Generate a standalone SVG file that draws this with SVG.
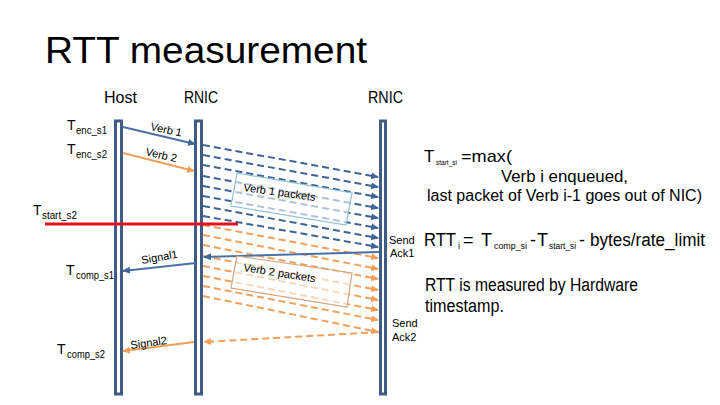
<svg xmlns="http://www.w3.org/2000/svg" width="720" height="405" viewBox="0 0 720 405">
<defs>
<style>
text{font-family:"Liberation Sans",Arial,sans-serif;fill:#000}
.bar{fill:#fff;stroke:#3E5C86;stroke-width:3}
.bs{stroke:#4A70A8;stroke-width:2;fill:none}
.bd{stroke:#3F6597;stroke-width:2;fill:none;stroke-dasharray:7 4}
.os{stroke:#F0A05A;stroke-width:2;fill:none}
.od{stroke:#F0A05A;stroke-width:2;fill:none;stroke-dasharray:7 4}
.lbl{font-size:11px}
.sub{font-size:10px}
.big{font-size:18px}
.mid{font-size:17px}
</style>
<marker id="ab" markerWidth="8" markerHeight="7" refX="7" refY="3.5" orient="auto" markerUnits="userSpaceOnUse"><path d="M0,0 L8,3.5 L0,7 z" fill="#3F6597"/></marker>
<marker id="ao" markerWidth="8" markerHeight="7" refX="7" refY="3.5" orient="auto" markerUnits="userSpaceOnUse"><path d="M0,0 L8,3.5 L0,7 z" fill="#F0A05A"/></marker>
</defs>
<rect width="720" height="405" fill="#fff"/>
<text x="45" y="63" font-size="37" textLength="322" lengthAdjust="spacingAndGlyphs">RTT measurement</text>

<g id="host">
<rect class="bar" x="115.5" y="121" width="6" height="273"/>
<text x="104" y="103" font-size="16" textLength="33" lengthAdjust="spacingAndGlyphs">Host</text>
</g>
<g id="rnic1">
<rect class="bar" x="195.5" y="121" width="6" height="273"/>
<text x="184" y="103" font-size="16" textLength="34" lengthAdjust="spacingAndGlyphs">RNIC</text>
</g>
<g id="rnic2">
<rect class="bar" x="380.5" y="121" width="5" height="273"/>
<text x="368" y="103" font-size="16" textLength="35" lengthAdjust="spacingAndGlyphs">RNIC</text>
</g>

<g id="connectors">
<line class="bs" x1="123" y1="127" x2="195" y2="144" marker-end="url(#ab)"/>
<line class="os" x1="123" y1="153" x2="194" y2="171" marker-end="url(#ao)"/>
<line class="bd" x1="203" y1="145" x2="378" y2="177" marker-end="url(#ab)"/>
<line class="bd" x1="203" y1="155" x2="378" y2="187" marker-end="url(#ab)"/>
<line class="bd" x1="203" y1="165" x2="378" y2="197" marker-end="url(#ab)"/>
<line class="bd" x1="203" y1="176" x2="378" y2="208" marker-end="url(#ab)"/>
<line class="bd" x1="203" y1="186" x2="378" y2="218" marker-end="url(#ab)"/>
<line class="bd" x1="203" y1="196" x2="378" y2="228" marker-end="url(#ab)"/>
<line class="bd" x1="203" y1="206" x2="378" y2="238" marker-end="url(#ab)"/>
<line class="bd" x1="203" y1="216" x2="378" y2="247" marker-end="url(#ab)"/>
<line class="od" x1="203" y1="225" x2="378" y2="258" marker-end="url(#ao)"/>
<line class="od" x1="203" y1="235" x2="378" y2="269" marker-end="url(#ao)"/>
<line class="od" x1="203" y1="245" x2="378" y2="279" marker-end="url(#ao)"/>
<line class="od" x1="203" y1="256" x2="378" y2="290" marker-end="url(#ao)"/>
<line class="od" x1="203" y1="266" x2="378" y2="300" marker-end="url(#ao)"/>
<line class="od" x1="203" y1="276" x2="378" y2="310" marker-end="url(#ao)"/>
<line class="od" x1="203" y1="286" x2="378" y2="320" marker-end="url(#ao)"/>
<line class="od" x1="203" y1="296" x2="378" y2="332" marker-end="url(#ao)"/>
<line class="bs" x1="379" y1="252" x2="204" y2="257" marker-end="url(#ab)"/>
<line class="od" x1="379" y1="332" x2="204" y2="342" marker-end="url(#ao)"/>
<line class="bs" x1="196" y1="263" x2="123" y2="271" marker-end="url(#ab)"/>
<line class="os" x1="194" y1="342" x2="123" y2="351" marker-end="url(#ao)"/>
<line x1="45" y1="224" x2="238" y2="224" stroke="#E3101E" stroke-width="3"/>
</g>

<g id="verb1-packets">
<polygon points="237,173 352,193 346,225 231,206" fill="#fff" fill-opacity="0.6" stroke="#8EC3D2" stroke-width="1.2"/>
<text class="lbl" transform="translate(243,191) rotate(8)" font-size="12">Verb 1 packets</text>
</g>
<g id="verb2-packets">
<polygon points="237,256 352,273 347,307 231,288" fill="#fff" fill-opacity="0.6" stroke="#D2A57E" stroke-width="1.2"/>
<text class="lbl" transform="translate(243,271) rotate(9)" font-size="12">Verb 2 packets</text>
</g>

<g id="labels">
<text class="lbl" transform="translate(150,130) rotate(12)">Verb 1</text>
<text class="lbl" transform="translate(145,155) rotate(13)">Verb 2</text>
<text class="lbl" transform="translate(142,264) rotate(-10)">Signal1</text>
<text class="lbl" transform="translate(131,349) rotate(-8)">Signal2</text>
<text class="lbl" x="389" y="244">Send</text>
<text class="lbl" x="390" y="257">Ack1</text>
<text class="lbl" x="392" y="327">Send</text>
<text class="lbl" x="392" y="341">Ack2</text>
</g>

<g id="time-labels">
<text x="67" y="130" font-size="14">T</text><text class="sub" x="76" y="134" textLength="31" lengthAdjust="spacingAndGlyphs">enc_s1</text>
<text x="67" y="154" font-size="14">T</text><text class="sub" x="76" y="158" textLength="31" lengthAdjust="spacingAndGlyphs">enc_s2</text>
<text x="33" y="215" font-size="14">T</text><text class="sub" x="42" y="219" textLength="35" lengthAdjust="spacingAndGlyphs">start_s2</text>
<text x="66" y="275" font-size="14">T</text><text class="sub" x="76" y="279" textLength="38" lengthAdjust="spacingAndGlyphs">comp_s1</text>
<text x="57" y="354" font-size="14">T</text><text class="sub" x="67" y="358" textLength="38" lengthAdjust="spacingAndGlyphs">comp_s2</text>
</g>

<g id="notes">
<text class="mid" x="424" y="162">T</text>
<text x="436" y="165" font-size="7.2" textLength="21" lengthAdjust="spacingAndGlyphs">start_si</text>
<text class="mid" x="461" y="162" textLength="51" lengthAdjust="spacingAndGlyphs">=max(</text>
<text class="mid" x="501" y="182" textLength="127" lengthAdjust="spacingAndGlyphs">Verb i enqueued,</text>
<text x="427" y="201" font-size="16" textLength="275" lengthAdjust="spacingAndGlyphs">last packet of Verb i-1 goes out of NIC)</text>

<text class="big" x="424" y="246" textLength="32" lengthAdjust="spacingAndGlyphs">RTT</text>
<text x="458" y="249" font-size="9">i</text>
<text class="big" x="463" y="246">=</text>
<text class="big" x="481" y="246">T</text>
<text x="494" y="249" font-size="9" textLength="33" lengthAdjust="spacingAndGlyphs">comp_si</text>
<text class="big" x="530" y="246">-</text>
<text class="big" x="537" y="246">T</text>
<text x="549" y="249" font-size="9" textLength="27" lengthAdjust="spacingAndGlyphs">start_si</text>
<text class="big" x="579" y="246">-</text>
<text class="big" x="590" y="246" textLength="115" lengthAdjust="spacingAndGlyphs">bytes/rate_limit</text>

<text class="big" x="425" y="291" textLength="213" lengthAdjust="spacingAndGlyphs">RTT is measured by Hardware</text>
<text class="big" x="425" y="312" textLength="79" lengthAdjust="spacingAndGlyphs">timestamp.</text>
</g>
</svg>
